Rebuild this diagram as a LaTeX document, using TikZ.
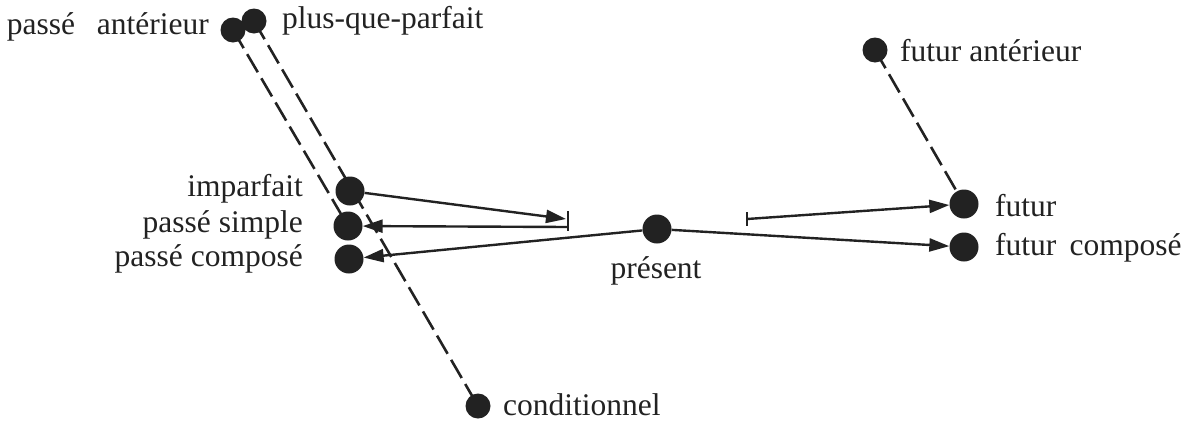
\documentclass[tikz,border=0pt]{standalone}
\usepackage{fontspec}
\setmainfont{Liberation Serif}
\usetikzlibrary{arrows.meta}
\definecolor{ink}{HTML}{222222}
\begin{document}
\begin{tikzpicture}[x=1pt,y=-1pt,
  bigdot/.style={circle,fill=ink,draw=none,inner sep=0pt,minimum size=29pt},
  smalldot/.style={circle,fill=ink,draw=none,inner sep=0pt,minimum size=25pt},
  lbl/.style={inner sep=0pt,font=\fontsize{31.5}{36}\selectfont,text=ink},
  dashline/.style={draw=ink,line width=2.6pt,dash pattern=on 21pt off 7pt},
  arr/.style={draw=ink,line width=2.4pt,-{Triangle[length=20pt,width=13pt]}},
  barline/.style={draw=ink,line width=2.4pt}]
\useasboundingbox (0,0) rectangle (1197,421);
% positions
\coordinate (pa) at (233,30);
\coordinate (pqp) at (254,21);
\coordinate (imp) at (350,191);
\coordinate (ps) at (348,226);
\coordinate (pc) at (349,259);
\coordinate (pres) at (657,229);
\coordinate (fut) at (964,204);
\coordinate (fc) at (964,247);
\coordinate (fa) at (875,50);
\coordinate (cond) at (478,406);
% dashed lines
\draw[dashline] (pa) -- (ps);
\draw[dashline] (pqp) -- (cond);
\draw[dashline] (fa) -- (fut);
% dots
\node[smalldot] (paD) at (pa) {};
\node[smalldot] (pqpD) at (pqp) {};
\node[bigdot] (impD) at (imp) {};
\node[bigdot] (psD) at (ps) {};
\node[bigdot] (pcD) at (pc) {};
\node[bigdot] (presD) at (pres) {};
\node[bigdot] (futD) at (fut) {};
\node[bigdot] (fcD) at (fc) {};
\node[smalldot] (faD) at (fa) {};
\node[smalldot] (condD) at (cond) {};
% labels
\node[lbl,anchor=east] (paL) at (209,27) {passé\;\, antérieur};
\node[lbl,anchor=west] (pqpL) at (282,21) {plus-que-parfait};
\node[lbl,anchor=east] (impL) at (303,189) {imparfait};
\node[lbl,anchor=east] (psL) at (303,225) {passé simple};
\node[lbl,anchor=east] (pcL) at (303,259) {passé composé};
\node[lbl,anchor=north] (presL) at (656,256) {présent};
\node[lbl,anchor=west] (futL) at (995,206) {futur};
\node[lbl,anchor=west] (fcL) at (995,248) {futur\, composé};
\node[lbl,anchor=west] (faL) at (900,51) {futur antérieur};
\node[lbl,anchor=west] (condL) at (503,405) {conditionnel};
% bars
\coordinate (b1t) at (568,211);
\coordinate (b1b) at (568,231);
\coordinate (b1a) at (566,219);
\coordinate (b1s) at (568,227);
\draw[barline] (b1t) -- (b1b);
\coordinate (b2t) at (747,212);
\coordinate (b2b) at (747,226);
\coordinate (b2s) at (747,219);
\draw[barline] (b2t) -- (b2b);
% arrows
\draw[arr] (impD) -- (b1a);
\draw[arr] (b1s) -- (psD);
\draw[arr] (presD) -- (pcD);
\draw[arr] (presD) -- (fcD);
\draw[arr] (b2s) -- (futD);
\end{tikzpicture}
\end{document}
